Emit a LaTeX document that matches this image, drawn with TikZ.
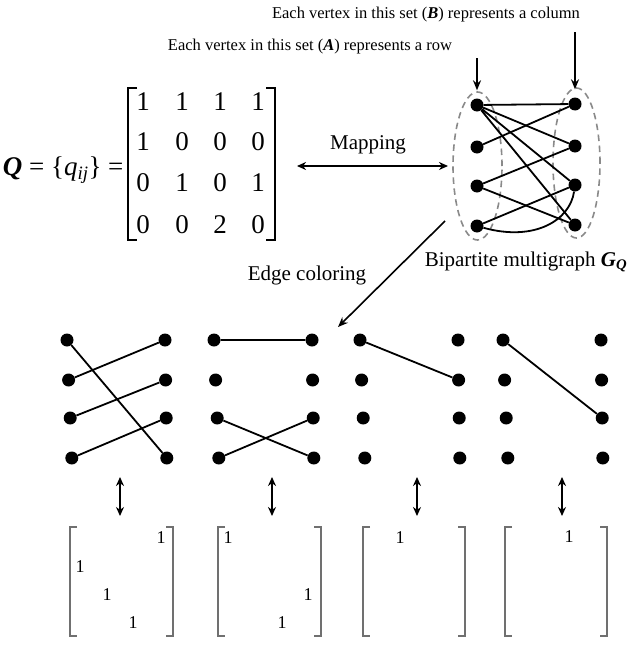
\documentclass[tikz,border=0pt]{standalone}
\usepackage{fontspec}
\setmainfont{Liberation Serif}
\usetikzlibrary{arrows.meta,positioning}
\definecolor{Ink}{HTML}{000000}
\definecolor{DashGray}{HTML}{8A8A8A}
\definecolor{BracketGray}{HTML}{707070}

\begin{document}
\begin{tikzpicture}[x=1pt,y=-1pt,
    vertex/.style={circle,fill=Ink,inner sep=0pt,minimum size=13pt},
    edge/.style={Ink,line width=1.8pt},
    setline/.style={DashGray,line width=1.6pt,dash pattern=on 6.5pt off 4.5pt},
    pointer/.style={Ink,line width=1.6pt,-{Stealth[length=10pt,width=8pt]}},
    twoway/.style={Ink,line width=1.8pt,{Stealth[length=9pt,width=8pt]}-{Stealth[length=9pt,width=8pt]}},
    note/.style={font=\fontsize{16.5}{19}\selectfont},
    bignote/.style={font=\fontsize{21}{24}\selectfont},
    bignum/.style={font=\fontsize{27}{30}\selectfont},
    smallnum/.style={font=\fontsize{18}{20}\selectfont},
    bigbracket/.style={Ink,line width=1.6pt},
    smallbracket/.style={BracketGray,line width=1.2pt}]
  \useasboundingbox (0,0) rectangle (629,645);

  % labels of the two vertex sets
  \node[note] (labB) at (426,15) {Each vertex in this set (\textbf{\textit{B}}) represents a column};
  \node[note] (labA) at (310,47) {Each vertex in this set (\textbf{\textit{A}}) represents a row};

  % the matrix Q
  \node[bignum,anchor=east] (qdef) at (127,170)
        {\textbf{\textit{Q}} = \{\textit{q}\textsubscript{\textit{ij}}\} =};
  \draw[bigbracket] (137,88) -- (128,88) -- (128,240) -- (137,240);
  \draw[bigbracket] (266,88) -- (275,88) -- (275,240) -- (266,240);
  \foreach \y/\a/\b/\c/\d [count=\i] in {102/1/1/1/1, 142/1/0/0/0, 183/0/1/0/1, 225/0/0/2/0} {
    \node[bignum] (q\i a) at (143,\y) {\a};
    \node[bignum] (q\i b) at (182,\y) {\b};
    \node[bignum] (q\i c) at (220,\y) {\c};
    \node[bignum] (q\i d) at (258,\y) {\d};
  }

  % mapping
  \coordinate (mapL) at (297,166);
  \coordinate (mapR) at (448,166);
  \draw[twoway] (mapL) -- (mapR);
  \node[bignote] (maptext) at (368,145) {Mapping};

  % bipartite multigraph G_Q
  \foreach \r/\y in {1/105,2/147,3/186,4/226} {
    \node[vertex] (a\r) at (477,\y) {};
    \node[vertex] (b\r) at (575,\y-1) {};
  }
  \draw[setline] (477.5,166) ellipse [x radius=24.5pt, y radius=74pt];
  \draw[setline] (576.5,163) ellipse [x radius=23.5pt, y radius=75pt];
  \draw[edge] (a1) -- (b1) (a1) -- (b2) (a1) -- (b3) (a1) -- (b4);
  \draw[edge] (a2) -- (b1);
  \draw[edge] (a3) -- (b2) (a3) -- (b4);
  \draw[edge] (a4) -- (b3);
  \draw[edge] (a4) .. controls (535,242) and (570,220) .. (b3);

  \coordinate (ptA) at (477,58);
  \coordinate (ptB) at (575,32);
  \draw[pointer,shorten >=8pt] (ptA) -- (a1);
  \draw[pointer,shorten >=8pt] (ptB) -- (b1);

  \node[bignote] (gqtext) at (526,262)
        {Bipartite multigraph \textbf{\textit{G}}\textsubscript{\textbf{\textit{Q}}}};

  % edge coloring
  \coordinate (colStart) at (445,221);
  \coordinate (colEnd) at (338,327);
  \draw[pointer] (colStart) -- (colEnd);
  \node[bignote] (coltext) at (307,275) {Edge coloring};

  % the four matchings
  \foreach \g/\xa/\xb in {1/67/165, 2/214/312, 3/360/458, 4/503/601} {
    \foreach \r/\y in {1/340,2/380,3/418,4/458} {
      \node[vertex] (g\g a\r) at (\xa+1.6*\r-1.6,\y) {};
      \node[vertex] (g\g b\r) at (\xb+0.6*\r-0.6,\y) {};
    }
  }
  \draw[edge] (g1a1) -- (g1b4) (g1a2) -- (g1b1) (g1a3) -- (g1b2) (g1a4) -- (g1b3);
  \draw[edge] (g2a1) -- (g2b1) (g2a3) -- (g2b4) (g2a4) -- (g2b3);
  \draw[edge] (g3a1) -- (g3b2);
  \draw[edge] (g4a1) -- (g4b3);

  % arrows to the permutation matrices
  \foreach \k/\x in {1/120, 2/272, 3/417, 4/562} {
    \coordinate (up\k) at (\x,477);
    \coordinate (dn\k) at (\x,516);
    \draw[twoway] (up\k) -- (dn\k);
  }

  % the matrices of the matchings
  \foreach \l/\r in {70/173, 218/321, 363/465, 505/607} {
    \draw[smallbracket] (\l+7,527) -- (\l,527) -- (\l,636) -- (\l+7,636);
    \draw[smallbracket] (\r-7,527) -- (\r,527) -- (\r,636) -- (\r-7,636);
  }
  \node[smallnum] (m1a) at (161,538) {1};
  \node[smallnum] (m1b) at (80,567) {1};
  \node[smallnum] (m1c) at (107,595) {1};
  \node[smallnum] (m1d) at (133,623) {1};
  \node[smallnum] (m2a) at (228,538) {1};
  \node[smallnum] (m2b) at (308,595) {1};
  \node[smallnum] (m2c) at (282,623) {1};
  \node[smallnum] (m3a) at (400,538) {1};
  \node[smallnum] (m4a) at (569,537) {1};
\end{tikzpicture}
\end{document}
